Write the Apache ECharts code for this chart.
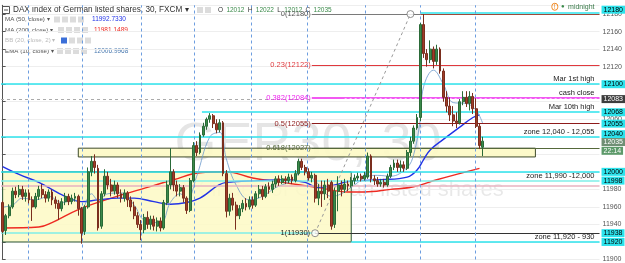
<!DOCTYPE html>
<html><head><meta charset="utf-8">
<script src="https://cdn.jsdelivr.net/npm/echarts@6/dist/echarts.min.js"></script>
<style>html,body{margin:0;padding:0;background:#fff;overflow:hidden}#c{width:625px;height:263px}</style>
</head><body><div id="c"></div>
<script>
// ---------- data ----------
const opens = [11965,11933,11950,11960,11978,11974,11980,11972,11976,11968,11960,11972,11980,11974,11970,11977,11968,11964,11958,11966,11972,11966,11970,11972,11958,11932,11960,12000,12012,12004,11938,11975,11995,11985,11978,11985,11975,11970,11976,11968,11960,11950,11940,11934,11948,11940,11946,11938,11944,11936,11965,11985,12000,11985,11978,11982,11970,11956,11990,12030,12022,12042,12052,12060,12064,12055,12048,12056,11998,11955,11970,11962,11950,11958,11964,11960,11968,11962,11975,11980,11972,11983,11980,11986,11992,11988,11992,11990,11994,11990,11998,12012,12005,12000,11993,11996,11970,11978,11975,11985,11988,11940,11978,11985,11980,11986,11984,11990,11993,11995,11992,11994,12018,11992,11990,11986,11988,11985,11995,12005,12010,12005,12008,12004,12022,12035,12050,12062,12168,12135,12128,12140,12126,12140,12115,12085,12075,12065,12058,12056,12080,12085,12078,12086,12072,12052,12028];
const closes = [11932,11950,11960,11978,11974,11980,11972,11976,11968,11960,11972,11980,11974,11970,11977,11968,11964,11958,11966,11972,11966,11970,11972,11958,11930,11960,12000,12012,12005,11936,11975,11995,11985,11978,11985,11975,11970,11976,11968,11960,11950,11940,11934,11948,11940,11946,11938,11944,11936,11965,11985,12000,11985,11978,11982,11970,11956,11990,12030,12022,12042,12052,12060,12064,12055,12048,12056,11998,11955,11970,11962,11950,11958,11964,11960,11968,11962,11975,11980,11972,11983,11980,11986,11992,11988,11992,11990,11994,11990,11998,12012,12005,12000,11993,11996,11970,11978,11975,11985,11978,11938,11978,11985,11980,11986,11984,11990,11993,11995,11992,11996,12018,11992,11990,11986,11988,11985,11995,12005,12010,12005,12008,12004,12022,12035,12050,12062,12168,12135,12128,12140,12126,12140,12115,12085,12075,12065,12058,12056,12080,12085,12078,12086,12072,12052,12030,12035];
const lows = [11930,11928,11947,11958,11970,11971,11968,11966,11964,11944,11958,11968,11970,11965,11966,11962,11958,11945,11955,11962,11962,11963,11966,11950,11918,11928,11958,11995,11998,11933,11935,11972,11980,11972,11974,11970,11965,11966,11960,11955,11946,11936,11922,11930,11935,11934,11933,11932,11932,11934,11962,11980,11978,11972,11972,11965,11952,11954,11988,12018,12020,12040,12048,12056,12050,12044,12045,11995,11948,11950,11956,11934,11946,11954,11956,11957,11958,11960,11970,11968,11970,11975,11976,11982,11984,11986,11986,11987,11986,11988,11996,12002,11996,11990,11988,11965,11962,11960,11968,11970,11934,11936,11955,11972,11976,11978,11982,11986,11990,11989,11990,11992,11988,11985,11983,11983,11982,11983,11993,12002,12000,12000,12000,12002,12018,12032,12048,12058,12130,12120,12124,12118,12122,12112,12080,12068,12058,12052,12050,12054,12076,12074,12070,12066,12050,12026,12018];
const highs = [11967,11952,11963,11982,11983,11985,11984,11980,11980,11972,11976,11984,11986,11978,11980,11980,11972,11968,11970,11976,11975,11974,11976,11974,11960,11962,12005,12018,12020,12008,11978,12003,12000,11992,11990,11988,11980,11980,11978,11972,11966,11954,11945,11952,11955,11950,11950,11948,11948,11968,11990,12027,12003,11990,11986,11985,11972,11993,12034,12035,12045,12056,12062,12067,12066,12060,12060,12058,12002,11975,11976,11966,11962,11968,11970,11972,11972,11978,11985,11984,11986,11988,11990,11995,11996,11996,11995,11998,11997,12002,12015,12015,12008,12004,12000,11998,11986,11990,11990,11992,11990,11982,11995,11990,11992,11990,11994,11997,11999,11998,12000,12022,12020,11996,11994,11992,11992,11998,12008,12014,12014,12013,12012,12025,12040,12053,12066,12170,12180,12140,12150,12143,12145,12142,12118,12092,12085,12075,12068,12083,12092,12092,12092,12090,12084,12055,12040];
// moving averages: [candle index, value]
const ma50 = [[0,12006],[5,11997],[11,11988],[19,11972],[24,11966],[29,11968],[35,11970],[40,11970],[46,11966],[51,11963],[56,11965],[60,11970],[68,11988],[78,11990],[86,11991],[92,11988],[96,11982],[101,11985],[105,11989],[115,11991],[123,11994],[126,12002],[128,12014],[130,12025],[134,12037],[139,12051],[143,12062],[145,12065]];
const ma200 = [[0,11936],[11,11937],[15,11942],[23,11957],[33,11970],[42,11980],[52,11991],[60,11999],[68,12000],[76,11993],[85,11988],[96,11982],[105,11977],[110,11977],[118,11980],[125,11983],[132,11991],[145,12004]];
const ema10 = [[0,11960],[3,11962],[6,11970],[10,11968],[14,11972],[18,11965],[22,11968],[24,11958],[27,11975],[29,11968],[32,11975],[36,11976],[40,11962],[43,11945],[48,11942],[51,11965],[54,11975],[56,11968],[59,11995],[63,12040],[66,12045],[68,12015],[71,11985],[75,11968],[79,11972],[83,11982],[88,11990],[91,12000],[95,11990],[100,11972],[103,11975],[107,11985],[111,11995],[114,11996],[118,11995],[123,12005],[125,12020],[127,12060],[128,12097],[131,12116],[134,12100],[137,12079],[141,12078],[144,12070],[146,12055]];
const fibRatios = ['0','0.23','0.382','0.5','0.618','1'];
const fibPrices = [12180,12122,12084,12055,12027,11930];
const tickLabels = [12180,12160,12140,12120,12060,11980,11960,11940,11900];
const tagTexts = ['12180','12100','12083','12068','12055','12040','12035','22:14','12000','11998','11938','11920'];
const tagPrices = [12185,12100,12083,12068,12055,12043,12034,12024,12000,11990,11930,11920];
const sessionBreaks = [7.7,24.3,42.1,58.4,75.7,92.6,110.4,127.1,143.7];
const slots = 182;

// ---------- chart ----------
const chart = echarts.init(document.getElementById('c'));
const cats = Array.from({length: slots}, (_, i) => String(i));
const ohlc = opens.map((o, i) => [o, closes[i], lows[i], highs[i]]);
const END = slots - 0.5, START = -0.5, FIBX = 94;
const CYAN = '#2de3ec';
const FONT = 'Liberation Sans, Arial, sans-serif';
const CLEAR = 'rgba(0,0,0,0)';

function seg(price, from, to, color, width, type, label) {
  return [{coord: [from, price], lineStyle: {color, width, type: type || 'solid'}, label: label || {show: false}}, {coord: [to, price]}];
}
function topText(t) { return {show: true, position: 'insideEndTop', formatter: t, color: '#222', fontSize: 7.5, fontFamily: FONT, distance: [5, 1]}; }
const fibColors = ['#7a7a7a', '#e0393e', '#ee22ee', '#8e1b1b', '#55683a', '#333333'];
const lines = [];
lines.push(seg(12083, START, FIBX, '#aaaaaa', 1, [3, 3]));
lines.push(seg(12100, START, END, CYAN, 1.5, 'solid', topText('Mar 1st high')));
lines.push(seg(12068, 60.6, END, CYAN, 1.5, 'solid', topText('Mar 10th high')));
lines.push(seg(12040, START, END, CYAN, 1.5, 'solid', topText('zone 12,040 - 12,055')));
lines.push(seg(12000, START, END, CYAN, 1.5));
lines.push(seg(11990, START, END, '#7fefe9', 1.5, 'solid', topText('zone 11,990 -12,000')));
lines.push(seg(11984, START, END, '#e7b3c0', 1.5));
lines.push(seg(11930, START, 95, '#7fefe9', 1.5));
lines.push(seg(11920, 106, END, CYAN, 1.5, 'solid', topText('zone 11,920 - 930')));
lines.push(seg(12181.5, 127, END, CYAN, 1.5, 'solid', {show: true, position: 'insideEndTop', distance: [5, 0],
  formatter: '{o|!} {d|\u25CF} {m|midnight}', rich: {o: {color: '#f08a24', fontSize: 7, borderColor: '#f08a24', borderWidth: 1, borderRadius: 5, padding: [0, 2]}, d: {color: '#3a8a4a', fontSize: 6}, m: {color: '#3a7a4a', fontSize: 7, fontFamily: FONT}}}));
lines.push(seg(12180, 127, END, '#a04a3a', 1));
lines.push(seg(12180, FIBX, 127, fibColors[0], 1));
fibPrices.forEach((p, k) => {
  if (k === 0) {
    lines.push(seg(p, FIBX, FIBX + 0.01, CLEAR, 1, 'solid', {show: true, position: 'start', formatter: fibRatios[k] + '(' + p + ')', color: '#555', fontSize: 7.5, fontFamily: FONT, distance: 1}));
    return;
  }
  const from = k === 5 ? 95 : FIBX;
  lines.push(seg(p, from, END, fibColors[k], k === 2 ? 1.5 : 1, 'solid',
    {show: true, position: 'start', formatter: fibRatios[k] + '(' + p + ')', color: k === 5 ? '#222' : fibColors[k], fontSize: 7.5, fontFamily: FONT, distance: k === 5 ? 5 : 1}));
});
lines.push(seg(12084, 104, END, '#ffffff', 0.6, [2, 3], topText('cash close')));
// right price tags
const tagBg = {'12083': '#3d3d3d', '12035': '#6f8f74', '22:14': '#5d9a6a'};
tagTexts.forEach((t, k) => {
  const bg = tagBg[t] || CYAN;
  const fg = tagBg[t] ? '#fff' : '#000';
  lines.push([{coord: [END - 0.3, tagPrices[k]], lineStyle: {color: CLEAR, width: 1},
    label: {show: true, position: 'end', formatter: t, color: fg, backgroundColor: bg, padding: [1, 2, 0, 2], fontSize: 7, fontFamily: FONT, distance: 2}},
    {coord: [END, tagPrices[k]]}]);
});
sessionBreaks.forEach(v => lines.push({xAxis: v, lineStyle: {color: '#6c9de0', width: 1, type: [3, 3]}, label: {show: false}}));
lines.push([{coord: [95, fibPrices[5]], lineStyle: {color: '#999', width: 1, type: [3, 3]}, label: {show: false}}, {coord: [124, fibPrices[0]]}]);

const option = {
  animation: false,
  grid: {left: 1, right: 22, top: 5.3, bottom: 3.1},
  xAxis: [
    {type: 'category', data: cats, boundaryGap: true, show: false},
    {type: 'value', min: START, max: END, show: false}
  ],
  yAxis: {
    type: 'value', position: 'right', min: 11900, max: 12190, interval: 20,
    axisLine: {show: true, lineStyle: {color: '#555'}},
    axisTick: {show: true, length: 3, lineStyle: {color: '#555'}},
    splitLine: {show: true, lineStyle: {color: '#eeeeee'}},
    axisLabel: {fontSize: 7, color: '#555', margin: 3, fontFamily: FONT, showMaxLabel: false,
      formatter: v => tickLabels.indexOf(v) >= 0 ? String(v) : ''}
  },
  series: [
    {type: 'line', xAxisIndex: 1, data: [], z: 1, silent: true,
      markArea: {silent: true, data: [
        [{coord: [0, 12000], itemStyle: {color: 'rgba(253,249,196,0.85)', borderColor: '#2f5a3a', borderWidth: 1}}, {coord: [106, 11920]}],
        [{coord: [23, 12027], itemStyle: {color: 'rgba(253,249,196,0.9)', borderColor: '#3e4a2a', borderWidth: 1}}, {coord: [162, 12017]}]
      ]}},
    {type: 'line', xAxisIndex: 1, data: [], z: 3, silent: true,
      markLine: {silent: true, symbol: ['none', 'none'], animation: false, data: lines}},
    {type: 'line', xAxisIndex: 1, data: ma200, smooth: 0.4, showSymbol: false, lineStyle: {color: '#ee2a22', width: 1.4}, z: 4},
    {type: 'line', xAxisIndex: 1, data: ma50, smooth: 0.4, showSymbol: false, lineStyle: {color: '#2233e6', width: 1.4}, z: 4},
    {type: 'line', xAxisIndex: 1, data: ema10, smooth: 0.4, showSymbol: false, lineStyle: {color: '#6a98cc', width: 0.8}, z: 4},
    {type: 'candlestick', xAxisIndex: 0, data: ohlc, barWidth: 2.4, z: 5,
      itemStyle: {color: '#3b8a4a', color0: '#a03c28', borderColor: '#2a6a38', borderColor0: '#7a2e1e', borderWidth: 1}},
    {type: 'scatter', xAxisIndex: 1, z: 6, symbol: 'circle', symbolSize: 7,
      data: [[95, fibPrices[5]], [124, fibPrices[0]]],
      itemStyle: {color: '#fff', borderColor: '#777', borderWidth: 1}}
  ],
  graphic: []
};

const g = [];
function txt(x, y, text, fill, size) {
  g.push({type: 'text', x, y, silent: true, style: {text, fill, font: size + 'px ' + FONT, textVerticalAlign: 'middle', verticalAlign: 'middle'}});
}
function icons(x, y, n, first) {
  for (let k = 0; k < n; k++) g.push({type: 'rect', silent: true, shape: {x: x + k * 8, y: y - 3, width: 6, height: 6}, style: {fill: k === 0 && first ? first : '#dcdcdc'}});
}
g.push({type: 'text', silent: true, z: -10, x: 308, y: 145, style: {text: 'GER30, 30', fill: 'rgba(0,0,0,0.1)', font: '54px ' + FONT, textAlign: 'center', align: 'center', textVerticalAlign: 'middle', verticalAlign: 'middle'}});
g.push({type: 'text', silent: true, z: -10, x: 332, y: 190, style: {text: 'DAX index of German listed shares', fill: 'rgba(0,0,0,0.09)', font: '22px ' + FONT, textAlign: 'center', align: 'center', textVerticalAlign: 'middle', verticalAlign: 'middle'}});
g.push({type: 'rect', silent: true, shape: {x: 2.5, y: 6.5, width: 7, height: 7}, style: {fill: '#fff', stroke: '#555', lineWidth: 1}});
g.push({type: 'line', silent: true, shape: {x1: 4, y1: 10, x2: 8, y2: 10}, style: {stroke: '#555', lineWidth: 1}});
txt(13, 10, 'DAX index of German listed shares, 30, FXCM \u25BE', '#333', 8.2);
icons(197, 10, 2);
g.push({type: 'text', silent: true, x: 218, y: 10, style: {text: '{l|O} {v|12012} {l|H} {v|12022} {l|L} {v|12012} {l|C} {v|12035}', rich: {l: {fill: '#333', fontSize: 6.5, fontFamily: FONT}, v: {fill: '#3b8a4a', fontSize: 6.5, fontFamily: FONT}}, textVerticalAlign: 'middle', verticalAlign: 'middle'}});
txt(5, 19.5, 'MA (50, close) \u25BE', '#555', 6.2);
icons(54, 19.5, 4);
txt(92, 19.5, '11992.7330', '#2233e6', 6.5);
txt(5, 30, 'MA (200, close) \u25BE', '#555', 6.2);
icons(58, 30, 4);
txt(94, 30, '11981.1489', '#ee2a22', 6.5);
txt(5, 40.5, 'BB (20, close, 2) \u25BE', '#bbbbbb', 6.2);
icons(61, 40.5, 4, '#3b6fd8');
txt(5, 51, 'EMA (10, close) \u25BE', '#555', 6.2);
icons(57, 51, 4);
txt(94, 51, '12006.9968', '#4a7ab0', 6.5);
option.graphic = g;
chart.setOption(option);
</script></body></html>
